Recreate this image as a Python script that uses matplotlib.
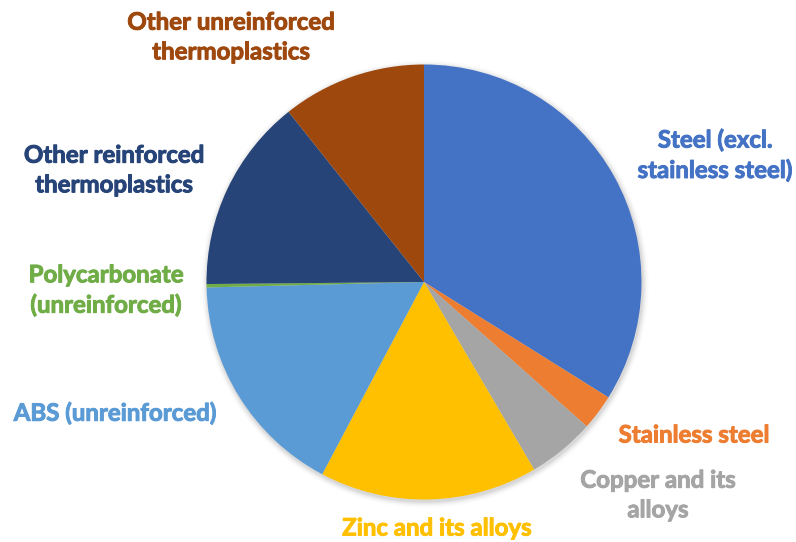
import matplotlib
matplotlib.use("Agg")
import matplotlib.pyplot as plt
import matplotlib.patheffects as pe
from matplotlib.patches import Circle

categories = ["Steel (excl.\nstainless steel)", "Stainless steel", "Copper and its\nalloys",
              "Zinc and its alloys", "ABS (unreinforced)", "Polycarbonate\n(unreinforced)",
              "Other reinforced\nthermoplastics", "Other unreinforced\nthermoplastics"]
values = [33.9, 2.65, 5.0, 16.2, 16.85, 0.25, 14.45, 10.7]
colors = ["#4472C4", "#ED7D31", "#A5A5A5", "#FFC000", "#5B9BD5", "#70AD47", "#264478", "#9E480E"]

W, H = 796, 542
fig = plt.figure(figsize=(W / 100, H / 100), dpi=100)
ax = fig.add_axes([0, 0, 1, 1])

cx, cy, r = 424, H - 282, 217.5

# soft shadow
for i, a in enumerate([0.05, 0.04, 0.03, 0.02, 0.012]):
    ax.add_patch(Circle((cx + 1, cy - 2), r + 1 + i * 1.3, color="black", alpha=a, lw=0, zorder=0))

ax.pie(values, colors=colors, startangle=90, counterclock=False, radius=r, center=(cx, cy),
       wedgeprops=dict(linewidth=0), frame=True)
ax.set_xlim(0, W)
ax.set_ylim(0, H)
ax.set_aspect("equal")
ax.axis("off")

label_pos = [(715, 155), (694, 435), (658, 495), (437, 528), (115, 413), (106, 290), (114, 170), (231, 37)]
for lab, col, (x, y) in zip(categories, colors, label_pos):
    ax.text(x, H - y, lab, color=col, fontsize=17.3, fontweight="bold", family="Lato",
            ha="center", va="center", linespacing=1.35,
            path_effects=[pe.withStroke(linewidth=0.7, foreground=col)])

fig.savefig("out.png", dpi=100)
